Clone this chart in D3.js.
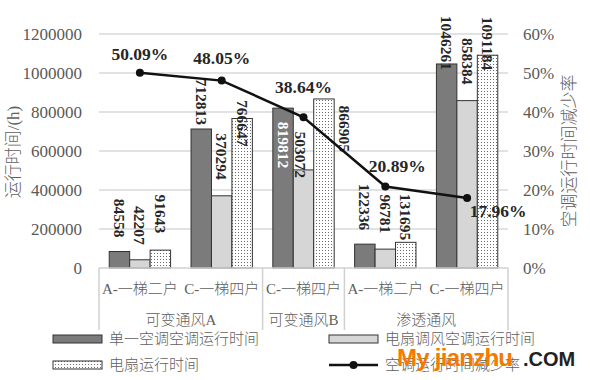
<!DOCTYPE html>
<html><head><meta charset="utf-8">
<script src="https://cdn.jsdelivr.net/npm/d3@7/dist/d3.min.js"></script>
<style>body{margin:0;background:#fff}</style>
</head><body><svg id="c" width="590" height="380"></svg>
<script>
// ---- data ----
const groups = ["可变通风A", "可变通风B", "渗透通风"];
const categories = ["A-一梯二户", "C-一梯四户", "C-一梯四户", "A-一梯二户", "C-一梯四户"];
const categoryGroup = [0, 0, 1, 2, 2];
const seriesNames = ["单一空调空调运行时间", "电扇调风空调运行时间", "电扇运行时间"];
const singleAC = [84558, 712813, 819812, 122336, 1046261];
const fanAC = [42207, 370294, 503072, 96781, 858384];
const fanOnly = [91643, 766647, 866905, 131695, 1091184];
const reductionName = "空调运行时间减少率";
const reduction = [50.09, 48.05, 38.64, 20.89, 17.96];
const leftTicks = [0, 200000, 400000, 600000, 800000, 1000000, 1200000];
const rightTicks = [0, 10, 20, 30, 40, 50, 60];
const leftTitle = "运行时间/(h)";
const rightTitle = "空调运行时间减少率";

// ---- layout tweaks (label nudges, px) ----
const valueLabelDy = [[-14, -4, 60, -14, 6], [-15, -16, 8, -16, -16], [-17, 28, 53, -2, 15]];
const valueLabelDx = [[0, 0, 0, 0, 0], [0, 0, -3, 0, 0], [0, 0, 21, 0, 0]];
const pctLabelDx = [0, 0, 0, 12, 31];
const pctLabelDy = [-13, -17, -24, -15, 19];

const svg = d3.select("#c");
const m = {l: 99, r: 508, t: 34, b: 268};
const serif = "'Liberation Serif','Times New Roman','Noto Sans CJK SC',serif";
const grey = "#595959";
const cjkGrey = "#606060";

const defs = svg.append("defs");
const pat = defs.append("pattern").attr("id", "dots").attr("patternUnits", "userSpaceOnUse")
  .attr("width", 3).attr("height", 3);
pat.append("rect").attr("width", 3).attr("height", 3).attr("fill", "#fff");
pat.append("rect").attr("x", 1).attr("y", 1).attr("width", 1).attr("height", 1).attr("fill", "#6a6a6a");

const series = [singleAC, fanAC, fanOnly];
const fills = ["#7b7b7b", "#d6d6d6", "url(#dots)"];

const x0 = d3.scaleBand().domain(d3.range(categories.length)).range([m.l, m.r]).paddingInner(0).paddingOuter(0);
const x1 = d3.scaleBand().domain(d3.range(3)).range([0, x0.bandwidth()]).paddingOuter(0.5).paddingInner(0);
const y = d3.scaleLinear().domain([0, 1200000]).range([m.b, m.t]);
const y2 = d3.scaleLinear().domain([0, 60]).range([m.b, m.t]);

// gridlines
svg.append("g").selectAll("line").data(leftTicks.slice(1)).join("line")
  .attr("x1", m.l).attr("x2", m.r).attr("y1", d => y(d)).attr("y2", d => y(d))
  .attr("stroke", "#d9d9d9").attr("stroke-width", 1.5);

// left axis labels
const la = svg.append("g").attr("transform", `translate(${m.l},0)`)
  .call(d3.axisLeft(y).tickValues(leftTicks).tickSize(0).tickPadding(17).tickFormat(d3.format("d")));
la.select(".domain").remove();
la.selectAll("text").attr("font-family", serif).attr("font-size", 17).attr("fill", grey);

// right axis labels
const ra = svg.append("g").attr("transform", `translate(${m.r},0)`)
  .call(d3.axisRight(y2).tickValues(rightTicks).tickSize(0).tickPadding(15).tickFormat(d => d + "%"));
ra.select(".domain").remove();
ra.selectAll("text").attr("font-family", serif).attr("font-size", 17).attr("fill", grey);

// bars
series.forEach((vals, s) => {
  svg.append("g").selectAll("rect").data(vals).join("rect")
    .attr("x", (d, i) => x0(i) + x1(s))
    .attr("y", d => y(d))
    .attr("width", x1.bandwidth())
    .attr("height", d => y(0) - y(d))
    .attr("fill", fills[s]).attr("stroke", "#333").attr("stroke-width", 1);
});

// category axis frame
const ax = svg.append("g").attr("stroke", "#d0d0d0").attr("stroke-width", 1.5);
ax.append("line").attr("x1", m.l).attr("x2", m.r).attr("y1", m.b).attr("y2", m.b);
const groupEdges = [0];
categoryGroup.forEach((g, i) => { if (i > 0 && g !== categoryGroup[i - 1]) groupEdges.push(i); });
groupEdges.push(categories.length);
groupEdges.forEach(i => {
  const xx = i < categories.length ? x0(i) : m.r;
  ax.append("line").attr("x1", xx).attr("x2", xx).attr("y1", m.b).attr("y2", 330);
});

// category labels
svg.append("g").selectAll("text").data(categories).join("text")
  .attr("x", (d, i) => x0(i) + x0.bandwidth() / 2).attr("y", 294)
  .attr("text-anchor", "middle").attr("font-family", serif).attr("font-size", 15)
  .attr("font-weight", 300).attr("fill", cjkGrey).text(d => d);
svg.append("g").selectAll("text").data(groups).join("text")
  .attr("x", (d, g) => {
    const idx = categoryGroup.map((c, i) => c === g ? i : -1).filter(i => i >= 0);
    return (x0(idx[0]) + x0(idx[idx.length - 1]) + x0.bandwidth()) / 2;
  })
  .attr("y", 325).attr("text-anchor", "middle").attr("font-family", serif).attr("font-size", 15)
  .attr("font-weight", 300).attr("fill", cjkGrey).text(d => d);

// value labels
series.forEach((vals, s) => {
  svg.append("g").selectAll("text").data(vals).join("text")
    .attr("transform", (d, i) => {
      const cx = x0(i) + x1(s) + x1.bandwidth() / 2 + valueLabelDx[s][i];
      const cy = y(d) + valueLabelDy[s][i];
      return `translate(${cx},${cy}) rotate(90)`;
    })
    .attr("text-anchor", "end").attr("dominant-baseline", "central")
    .attr("font-family", serif).attr("font-weight", "bold").attr("font-size", 15.5)
    .attr("fill", (d, i) => (s === 0 && valueLabelDy[s][i] > 20) ? "#fff" : "#262626")
    .text(d => d);
});

// line
const cx = i => x0(i) + x0.bandwidth() / 2;
svg.append("path").datum(reduction)
  .attr("d", d3.line().x((d, i) => cx(i)).y(d => y2(d)))
  .attr("fill", "none").attr("stroke", "#111").attr("stroke-width", 2.5);
svg.append("g").selectAll("circle").data(reduction).join("circle")
  .attr("cx", (d, i) => cx(i)).attr("cy", d => y2(d)).attr("r", 4).attr("fill", "#111");
svg.append("g").selectAll("text").data(reduction).join("text")
  .attr("x", (d, i) => cx(i) + pctLabelDx[i]).attr("y", (d, i) => y2(d) + pctLabelDy[i])
  .attr("text-anchor", "middle").attr("font-family", serif).attr("font-weight", "bold")
  .attr("font-size", 17.5).attr("fill", "#262626").text(d => d.toFixed(2) + "%");

// axis titles
svg.append("text").attr("transform", "translate(19,152) rotate(-90)")
  .attr("text-anchor", "middle").attr("font-family", serif).attr("font-size", 17)
  .attr("font-weight", 300).attr("fill", cjkGrey).text(leftTitle);
svg.append("text").attr("transform", "translate(575,151) rotate(-90)")
  .attr("text-anchor", "middle").attr("font-family", serif).attr("font-size", 17)
  .attr("font-weight", 300).attr("fill", cjkGrey).text(rightTitle);

// legend
const legendItems = [
  {name: seriesNames[0], type: "bar", fill: fills[0], x: 53, y: 339},
  {name: seriesNames[1], type: "bar", fill: fills[1], x: 329, y: 339},
  {name: seriesNames[2], type: "bar", fill: fills[2], x: 53, y: 365},
  {name: reductionName, type: "line", x: 329, y: 365}
];
legendItems.forEach(it => {
  const g = svg.append("g");
  if (it.type === "bar") {
    g.append("rect").attr("x", it.x).attr("y", it.y - 4).attr("width", 49).attr("height", 8)
      .attr("fill", it.fill).attr("stroke", "#333").attr("stroke-width", 1);
  } else {
    g.append("line").attr("x1", it.x).attr("x2", it.x + 49).attr("y1", it.y).attr("y2", it.y)
      .attr("stroke", "#111").attr("stroke-width", 2.5);
    g.append("circle").attr("cx", it.x + 24.5).attr("cy", it.y).attr("r", 4).attr("fill", "#111");
  }
  g.append("text").attr("x", it.x + 56).attr("y", it.y).attr("dominant-baseline", "central")
    .attr("font-family", serif).attr("font-size", 15).attr("font-weight", 300)
    .attr("fill", cjkGrey).text(it.name);
});

// watermark (overlays the legend as in the reference)
svg.append("text").attr("x", 397).attr("y", 366).attr("font-family", "'Liberation Sans',Arial,sans-serif")
  .attr("font-weight", "bold").attr("font-size", 24).attr("fill", "#f57a00").attr("textLength", 116)
  .text("My jianzhu");
svg.append("text").attr("x", 523).attr("y", 366).attr("font-family", "'Liberation Sans',Arial,sans-serif")
  .attr("font-weight", "bold").attr("font-size", 20).attr("fill", "#222").text(".COM");
</script></body></html>
